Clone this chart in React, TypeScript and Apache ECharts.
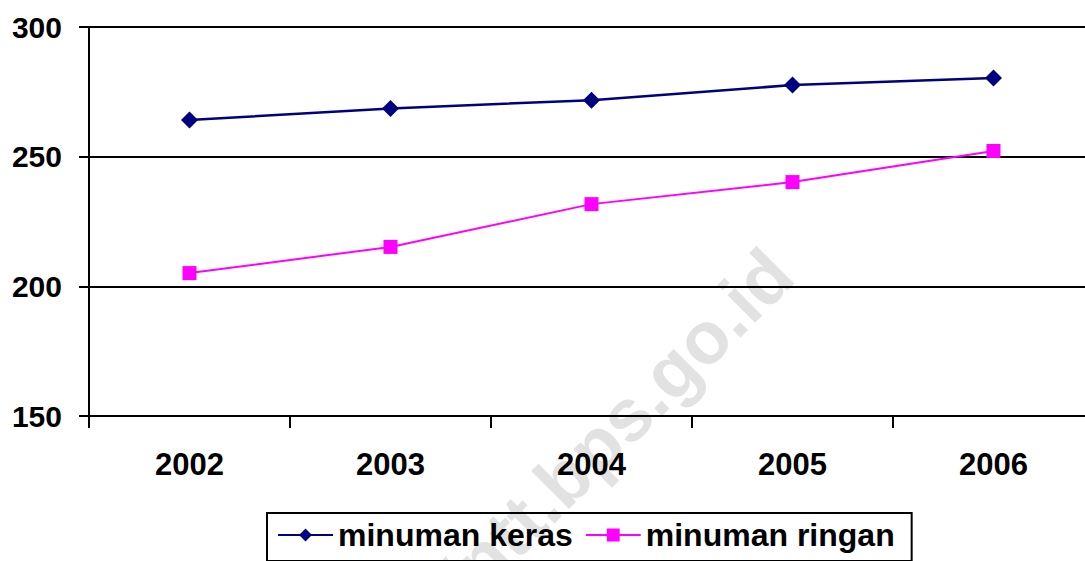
import React, { useEffect, useRef } from "react";
import * as echarts from "echarts";

const categories = ["2002", "2003", "2004", "2005", "2006"];
const kerasValues = [264.1, 268.6, 271.8, 277.6, 280.3];
const ringanValues = [205.1, 215.2, 231.7, 240.2, 252.2];
const yTicks = { min: 150, max: 300, interval: 50 };
const seriesNames = ["minuman keras", "minuman ringan"];
const watermark = "http://ntt.bps.go.id";

export default function App() {
  const ref = useRef<HTMLDivElement>(null);
  useEffect(() => {
    if (!ref.current) return;
    const chart = echarts.init(ref.current, undefined, { renderer: "svg" });
    const font = "Arial, 'Liberation Sans', sans-serif";
    chart.setOption({
      animation: false,
      backgroundColor: "#ffffff",
      graphic: [
        {
          type: "text",
          z: -10,
          x: 780,
          y: 262,
          rotation: (45 * Math.PI) / 180,
          style: {
            text: watermark,
            fill: "#e2e2e2",
            font: `bold 74px ${font}`,
            textAlign: "right",
            textVerticalAlign: "middle",
          },
        },
      ],
      grid: { left: 89, right: 0, top: 27, bottom: 145, containLabel: false },
      legend: {
        left: 267,
        top: 513,
        orient: "horizontal",
        padding: [6, 17, 10, 10],
        itemGap: 12,
        itemWidth: 55,
        itemHeight: 16,
        borderColor: "#000",
        borderWidth: 2,
        textStyle: { fontSize: 32, fontWeight: "bold", color: "#000", fontFamily: font },
        data: seriesNames,
      },
      xAxis: {
        type: "category",
        data: categories,
        boundaryGap: true,
        axisLine: { lineStyle: { color: "#000", width: 2 } },
        axisTick: { show: true, inside: false, length: 12, lineStyle: { color: "#000", width: 2 } },
        axisLabel: { margin: 33, fontSize: 31, fontWeight: "bold", color: "#000", fontFamily: font, interval: 0 },
        splitLine: { show: false },
      },
      yAxis: {
        type: "value",
        min: yTicks.min,
        max: yTicks.max,
        interval: yTicks.interval,
        axisLine: { show: true, lineStyle: { color: "#000", width: 2 } },
        axisTick: { show: true, inside: false, length: 10, lineStyle: { color: "#000", width: 2 } },
        axisLabel: { margin: 27, fontSize: 30, fontWeight: "bold", color: "#000", fontFamily: font },
        splitLine: { show: true, lineStyle: { color: "#000", width: 2 } },
      },
      series: [
        {
          name: seriesNames[0],
          type: "line",
          data: kerasValues,
          symbol: "diamond",
          symbolSize: 17,
          color: "#000080",
          lineStyle: { color: "#000080", width: 2.5 },
          itemStyle: { color: "#000080" },
          z: 3,
        },
        {
          name: seriesNames[1],
          type: "line",
          data: ringanValues,
          symbol: "rect",
          symbolSize: 14,
          color: "#ff00ff",
          lineStyle: { color: "#ff00ff", width: 2 },
          itemStyle: { color: "#ff00ff" },
          z: 3,
        },
      ],
    });
    return () => chart.dispose();
  }, []);
  return (
    <div style={{ position: "absolute", left: 0, top: 0, width: 1085, height: 561, overflow: "hidden" }}>
      <div ref={ref} style={{ width: 1094, height: 561 }} />
    </div>
  );
}
